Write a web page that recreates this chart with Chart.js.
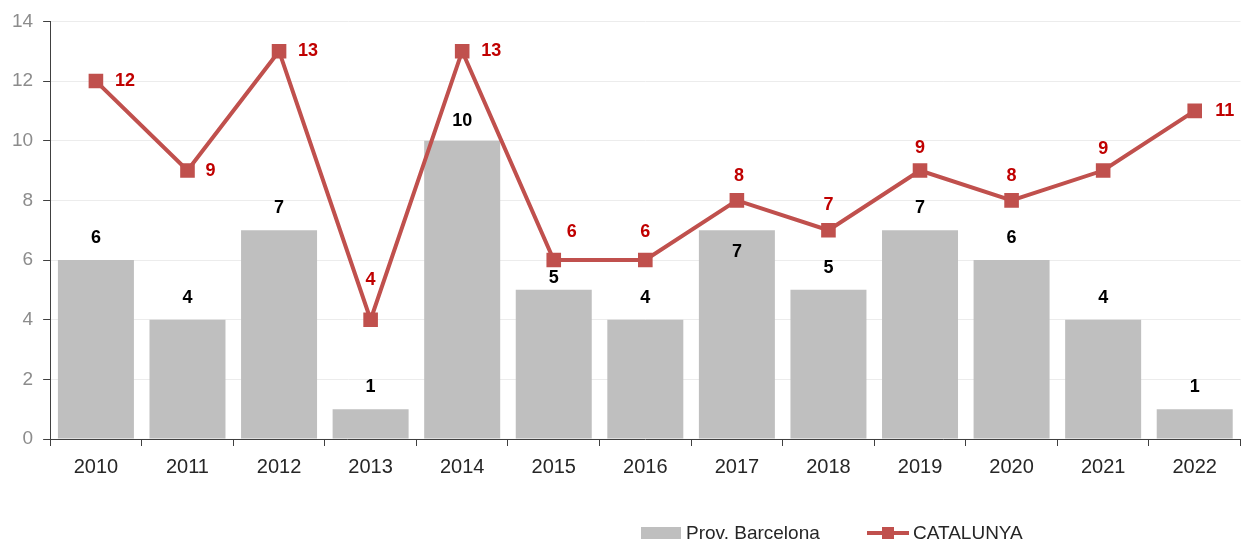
<!DOCTYPE html>
<html>
<head>
<meta charset="utf-8">
<script src="https://cdn.jsdelivr.net/npm/chart.js@4/dist/chart.umd.min.js"></script>
<style>
    html, body { margin: 0; padding: 0; background: #fff; }
    #wrap { position: relative; width: 1252px; height: 542px; overflow: hidden; }
    #legend { position: absolute; left: 0; top: 520px; width: 1252px; height: 26px; font-family: "Liberation Sans", Arial, sans-serif; font-size: 19px; color: #262626; }
    .lg-item { position: absolute; top: 0; display: flex; align-items: center; height: 26px; white-space: nowrap; }
    .box { width: 40px; height: 12px; background: #bfbfbf; margin-right: 5px; }
    .ln { position: relative; width: 42px; height: 4px; background: #c0504d; margin-right: 4px; }
    .ln::after { content: ''; position: absolute; left: 15px; top: -4px; width: 12px; height: 12px; background: #c0504d; }
</style>
</head>
<body>
<div id="wrap">
    <canvas id="chart" width="1252" height="542"></canvas>
    <div id="legend">
        <div class="lg-item" style="left:641px"><span class="box"></span>Prov. Barcelona</div>
        <div class="lg-item" style="left:867px"><span class="ln"></span>CATALUNYA</div>
    </div>
</div>
<script>
const years = ['2010', '2011', '2012', '2013', '2014', '2015', '2016', '2017', '2018', '2019', '2020', '2021', '2022'];
const barcelona = [6, 4, 7, 1, 10, 5, 4, 7, 5, 7, 6, 4, 1];
const catalunya = [12, 9, 13, 4, 13, 6, 6, 8, 7, 9, 8, 9, 11];
const yTicks = [0, 2, 4, 6, 8, 10, 12, 14];

// label nudges (pixels, relative to the mark)
const barLabelDy = [-22, -22, -22, -22, -20, -12, -22, 22, -22, -22, -22, -22, -22];
const lineLabelOffset = [[29, 0], [23, 0], [29, 0], [0, -40], [29, 0], [18, -28], [0, -28],
    [2, -24], [0, -25], [0, -23], [0, -24], [0, -22], [30, 0]];

const FONT = '"Liberation Sans", Arial, sans-serif';

const valueLabels = {
    id: 'valueLabels',
    afterDatasetsDraw(chart) {
        const ctx = chart.ctx;
        ctx.save();
        ctx.font = 'bold 18px ' + FONT;
        ctx.textAlign = 'center';
        ctx.textBaseline = 'middle';

        const barMeta = chart.getDatasetMeta(0);
        ctx.fillStyle = '#000000';
        barMeta.data.forEach((el, i) => {
            ctx.fillText(String(barcelona[i]), el.x, el.y + barLabelDy[i]);
        });

        const lineMeta = chart.getDatasetMeta(1);
        ctx.fillStyle = '#c00000';
        lineMeta.data.forEach((el, i) => {
            const off = lineLabelOffset[i];
            ctx.fillText(String(catalunya[i]), el.x + off[0], el.y + off[1]);
        });
        ctx.restore();
    }
};

new Chart(document.getElementById('chart').getContext('2d'), {
    data: {
        labels: years,
        datasets: [{
            type: 'bar',
            label: 'Prov. Barcelona',
            data: barcelona,
            backgroundColor: '#bfbfbf',
            borderWidth: 0,
            categoryPercentage: 1,
            barPercentage: 0.83,
            order: 2
        }, {
            type: 'line',
            label: 'CATALUNYA',
            data: catalunya,
            borderColor: '#c0504d',
            backgroundColor: '#c0504d',
            borderWidth: 4,
            pointStyle: 'rect',
            pointRadius: 7.5,
            pointHoverRadius: 7.5,
            tension: 0,
            order: 1
        }]
    },
    options: {
        responsive: false,
        animation: false,
        layout: { padding: { left: 2, right: 4, top: 10, bottom: 54 } },
        plugins: {
            legend: { display: false },
            tooltip: { enabled: false }
        },
        scales: {
            x: {
                offset: true,
                grid: {
                    offset: true,
                    drawOnChartArea: false,
                    drawTicks: true,
                    tickLength: 7,
                    tickColor: '#404040'
                },
                border: { color: '#404040', width: 1 },
                ticks: {
                    color: '#262626',
                    font: { family: FONT, size: 20 },
                    padding: 9,
                    maxRotation: 0
                }
            },
            y: {
                min: 0,
                max: 14,
                afterBuildTicks: axis => { axis.ticks = yTicks.map(v => ({ value: v })); },
                grid: {
                    color: '#ececec',
                    tickColor: '#404040',
                    tickLength: 7
                },
                border: { color: '#404040', width: 1 },
                ticks: {
                    color: '#8c8c8c',
                    font: { family: FONT, size: 19 },
                    padding: 10
                }
            }
        }
    },
    plugins: [valueLabels]
});
</script>
</body>
</html>
